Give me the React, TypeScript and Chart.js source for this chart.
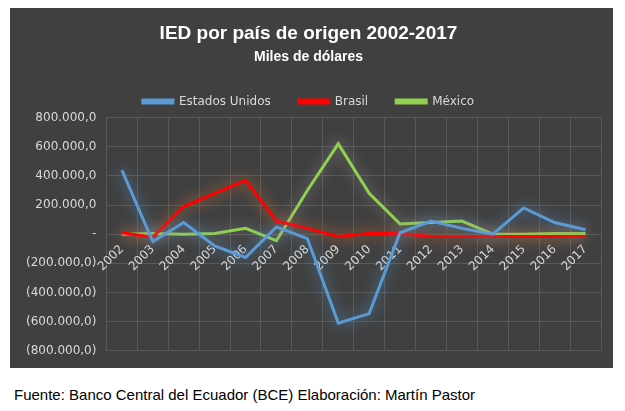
import React, { useEffect, useRef } from "react";
import { Chart, registerables } from "chart.js";
Chart.register(...registerables);

const years = ["2002","2003","2004","2005","2006","2007","2008","2009","2010","2011","2012","2013","2014","2015","2016","2017"];
const usa = [440000,-50000,80000,-80000,-160000,50000,-30000,-610000,-545000,10000,90000,40000,0,180000,80000,30000];
const brasil = [10000,-20000,190000,280000,370000,90000,40000,-15000,5000,5000,-15000,-15000,-15000,-15000,-15000,-15000];
const mexico = [0,5000,0,5000,40000,-45000,300000,620000,280000,70000,80000,90000,0,0,5000,5000];
const glowColors = ["rgba(91,155,213,0.9)", "rgba(237,125,49,0.9)", "rgba(170,170,170,0.7)"];

const fmt = (v: number) => {
  if (v === 0) return "-";
  const s = Math.abs(v).toLocaleString("de-DE", { minimumFractionDigits: 1, maximumFractionDigits: 1 });
  return v < 0 ? `(${s})` : s;
};

const glow = {
  id: "glow",
  beforeDatasetDraw(chart: any, args: any) {
    const ctx = chart.ctx;
    ctx.save();
    ctx.shadowColor = glowColors[args.index];
    ctx.shadowBlur = 14;
  },
  afterDatasetDraw(chart: any) {
    chart.ctx.restore();
  },
};

export default function App() {
  const ref = useRef<HTMLCanvasElement>(null);
  useEffect(() => {
    const c = new Chart(ref.current!, {
      type: "line",
      data: {
        labels: years,
        datasets: [
          { label: "Estados Unidos", data: usa, borderColor: "#5b9bd5", backgroundColor: "#5b9bd5", borderWidth: 3, pointRadius: 0 },
          { label: "Brasil", data: brasil, borderColor: "#ff0000", backgroundColor: "#ff0000", borderWidth: 3, pointRadius: 0 },
          { label: "México", data: mexico, borderColor: "#92d050", backgroundColor: "#92d050", borderWidth: 3, pointRadius: 0 },
        ],
      },
      options: {
        animation: false,
        responsive: false,
        layout: { padding: { left: 6, right: 12, bottom: 14, top: 0 } },
        plugins: {
          title: { display: true, text: "IED por país de origen 2002-2017", color: "#ffffff", font: { family: "Liberation Sans", size: 19, weight: "bold" }, padding: { top: 14, bottom: 4 } },
          subtitle: { display: true, text: "Miles de dólares", color: "#ffffff", font: { family: "Liberation Sans", size: 14, weight: "bold" }, padding: { bottom: 2 } },
          legend: { labels: { color: "#d9d9d9", boxWidth: 30, boxHeight: 3, font: { family: "DejaVu Sans", size: 12 }, padding: 28 } },
          tooltip: { enabled: false },
        },
        scales: {
          x: {
            position: { y: 0 } as any,
            offset: true,
            grid: { color: "#595959", offset: true, drawTicks: false },
            border: { display: false },
            ticks: { color: "#d9d9d9", maxRotation: 45, minRotation: 45, font: { family: "DejaVu Sans", size: 12 }, padding: 8 },
          },
          y: {
            min: -800000, max: 800000,
            grid: { color: "#595959", drawTicks: false },
            border: { display: false },
            ticks: { stepSize: 200000, color: "#d9d9d9", callback: (v: any) => fmt(Number(v)), font: { family: "DejaVu Sans", size: 12 }, padding: 10 },
          },
        },
      } as any,
      plugins: [glow],
    });
    return () => c.destroy();
  }, []);
  return (
    <div style={{ position: "fixed", left: 0, top: 0, width: 625, height: 411, background: "#fff" }}>
      <div style={{ position: "absolute", left: 10, top: 8, width: 603, height: 360, background: "#404040" }}>
        <canvas ref={ref} width={603} height={360} />
      </div>
      <div style={{ position: "absolute", left: 14, top: 386, fontFamily: "Liberation Sans, sans-serif", fontSize: 15, color: "#000" }}>
        Fuente: Banco Central del Ecuador (BCE) Elaboración: Martín Pastor
      </div>
    </div>
  );
}
